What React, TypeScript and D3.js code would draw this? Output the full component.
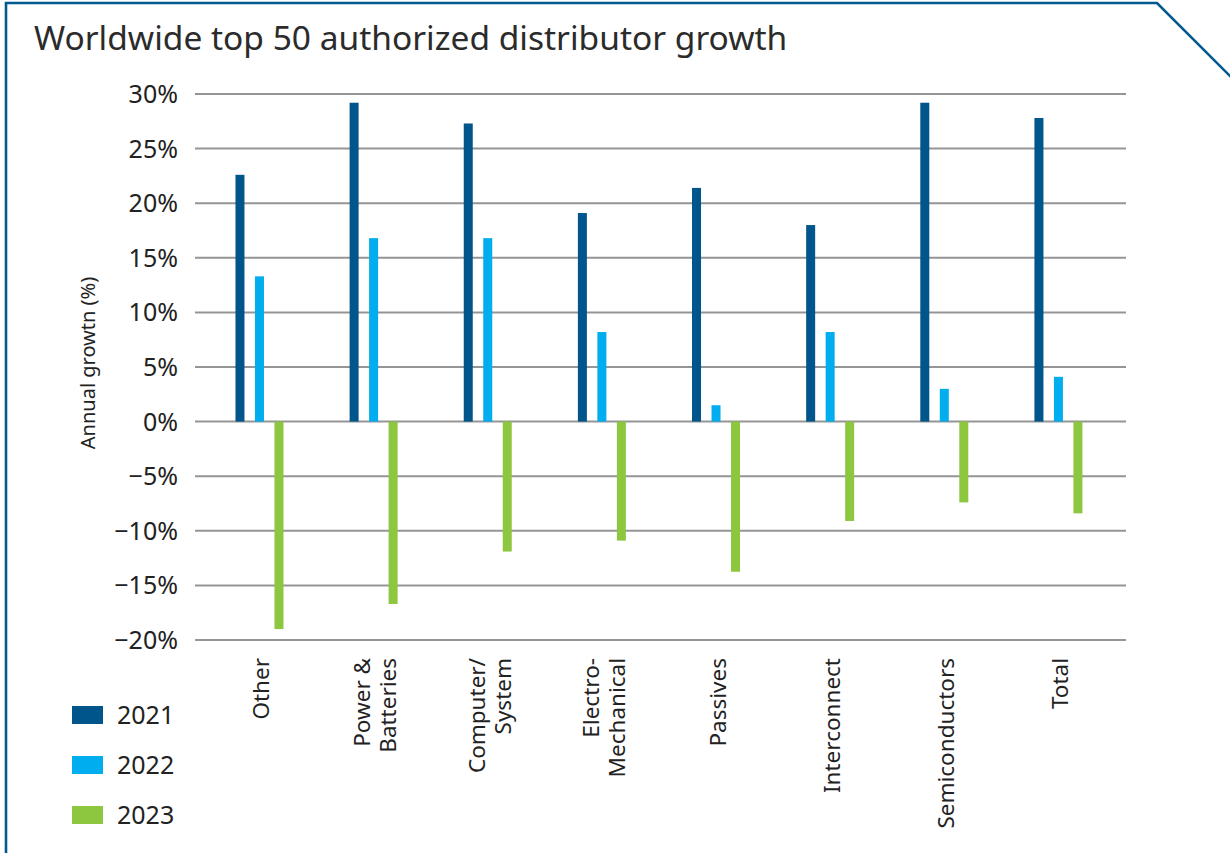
import React from "react";
import * as d3 from "d3";

const categories: string[][] = [
  ["Other"],
  ["Power &", "Batteries"],
  ["Computer/", "System"],
  ["Electro-", "Mechanical"],
  ["Passives"],
  ["Interconnect"],
  ["Semiconductors"],
  ["Total"],
];
const series = ["2021", "2022", "2023"];
const values2021 = [22.6, 29.2, 27.3, 19.1, 21.4, 18.0, 29.2, 27.8];
const values2022 = [13.3, 16.8, 16.8, 8.2, 1.5, 8.2, 3.0, 4.1];
const values2023 = [-19.0, -16.7, -11.9, -10.9, -13.75, -9.1, -7.4, -8.4];
const yTicks = [30, 25, 20, 15, 10, 5, 0, -5, -10, -15, -20];
const colors = ["#00558b", "#00adee", "#8dc63f"];

const FONT = "'Noto Sans', sans-serif";

export default function App() {
  const W = 1230, H = 853;
  const allValues = [values2021, values2022, values2023];
  const y = d3.scaleLinear().domain([-20, 30]).range([640, 94]);
  const x = d3.scaleBand<number>().domain(d3.range(categories.length)).range([202.4, 1115.5]);
  const xs = d3.scaleBand<number>().domain([0, 1, 2]).range([-29.25, 29.25]);
  const bw = 9;

  return (
    <svg width={W} height={H} style={{ position: "absolute", left: 0, top: 0, background: "#fff" }}>
      <path d="M6,853 L6,3 L1157,3 L1232,78" fill="none" stroke="#005a8e" strokeWidth={2.6} />
      <text x={34} y={50} fontFamily={FONT} fontSize={33.5} fill="#2b2b2b">
        Worldwide top 50 authorized distributor growth
      </text>
      {yTicks.map((t) => (
        <g key={t}>
          <line x1={195} x2={1126} y1={y(t)} y2={y(t)} stroke="#959595" strokeWidth={2} />
          <text x={178} y={y(t)} dy="0.36em" textAnchor="end" fontFamily={FONT} fontSize={25} fill="#222">
            {t < 0 ? "\u2212" + Math.abs(t) + "%" : t + "%"}
          </text>
        </g>
      ))}
      <text
        transform={`translate(95,363) rotate(-90)`}
        textAnchor="middle"
        fontFamily={FONT}
        fontSize={20}
        fill="#222"
      >
        Annual growtn (%)
      </text>
      {allValues.map((vals, si) =>
        vals.map((v, ci) => {
          const cx = (x(ci) as number) + x.bandwidth() / 2 + (xs(si) as number) + xs.bandwidth() / 2;
          return (
            <rect
              key={`${si}-${ci}`}
              x={cx - bw / 2}
              width={bw}
              y={y(Math.max(0, v))}
              height={Math.abs(y(v) - y(0))}
              fill={colors[si]}
            />
          );
        })
      )}
      {categories.map((lines, ci) => {
        const cx = (x(ci) as number) + x.bandwidth() / 2 + 2;
        const lh = 26;
        return (
          <text
            key={ci}
            transform={`translate(${cx},658) rotate(-90)`}
            textAnchor="end"
            fontFamily={FONT}
            fontSize={22.5}
            fill="#222"
          >
            {lines.map((l, li) => (
              <tspan key={li} x={0} y={(li - (lines.length - 1) / 2) * lh} dy="0.35em">
                {l}
              </tspan>
            ))}
          </text>
        );
      })}
      {series.map((s, i) => (
        <g key={s} transform={`translate(72,${706 + i * 50})`}>
          <rect width={31} height={18} fill={colors[i]} />
          <text x={45} y={9} dy="0.36em" fontFamily={FONT} fontSize={25} fill="#222">
            {s}
          </text>
        </g>
      ))}
    </svg>
  );
}
